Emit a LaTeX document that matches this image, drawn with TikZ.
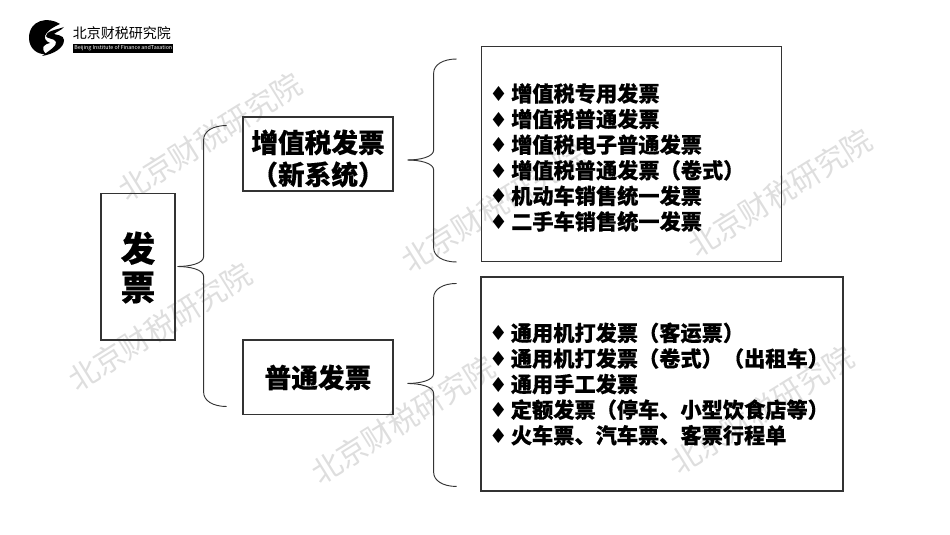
\documentclass[tikz,border=0pt]{standalone}
\usepackage{fontspec}
\setmainfont{Noto Sans CJK SC}[BoldFeatures={FakeBold=0.4}]
\newfontfamily\symfont{DejaVu Sans}
\usetikzlibrary{calc}
\tikzstyle{block} = [rectangle, draw=black!80, line width=1pt, text centered, inner sep=0, font=\bfseries]
\tikzstyle{listblock} = [block, align=left, inner xsep=6pt, font=\fontsize{15.9}{19.2}\selectfont\bfseries]
\tikzstyle{watermark} = [rotate=32, text=black!13, font=\fontsize{22.5}{24}\selectfont]
\tikzstyle{curly} = [draw=black!80, line width=0.7pt]
\newcommand{\itm}{{\symfont\fontsize{15.5}{15.5}\selectfont ♦}\hspace{2.5pt}}
\newcommand{\curlybrace}[3]{%
\path [curly] (#1) ++(49,-#2) .. controls +(-14,0) and +(0,-8) .. ++(-23,14) -- ++(0,#2-24) .. controls +(0,7) and +(12,0) .. (#1);
\path [curly] (#1) .. controls +(12,0) and +(0,-7) .. ++(26,10) -- ++(0,#3-24) .. controls +(0,8) and +(-14,0) .. ++(23,14);
}

\begin{document}
\begin{tikzpicture}[x=0.75pt,y=-0.75pt]
\useasboundingbox (0,0) rectangle (950,535);

% watermark
\node [watermark] (mark1) at (210,137) {北京财税研究院};
\node [watermark] (mark2) at (160,327) {北京财税研究院};
\node [watermark] (mark3) at (493,208) {北京财税研究院};
\node [watermark] (mark4) at (780,193) {北京财税研究院};
\node [watermark] (mark5) at (403,420) {北京财税研究院};
\node [watermark] (mark6) at (762,410) {北京财税研究院};

% logo
\fill [black] (60,24) .. controls (48,16) and (29,20) .. (29,38) .. controls (29,48) and (37,55) .. (46,54) .. controls (40,48) and (44,44) .. (50,43) .. controls (42,40) and (42,32) .. (60,24) -- cycle;
\fill [black] (64,27) .. controls (56,30) and (46,31) .. (46,36) .. controls (46,39) and (55,38) .. (56,42) .. controls (57,46) and (50,50) .. (42,56) .. controls (54,54) and (64,48) .. (64,40) .. controls (64,35) and (56,35) .. (54,34) .. controls (56,32) and (62,30) .. (64,27) -- cycle;
\node [anchor=west, inner sep=0, font=\fontsize{10.5}{12}\selectfont] (logotext) at (72.5,33.5) {北京财税研究院};
\node [anchor=west, fill=black, text=white, inner sep=0, minimum width=75pt, minimum height=6.8pt, font=\fontsize{4}{5}\selectfont] (logobar) at (73,48.5) {Beijing Institute of Finance andTaxation};

% blocks
\node [block, minimum width=55.5pt, minimum height=110pt, align=center, font=\fontsize{26}{29}\selectfont\bfseries] (fapiao) at (138,266.5) {\rule{0pt}{24pt}发\\票};
\node [block, minimum width=112.5pt, minimum height=55.5pt, align=center, font=\fontsize{20}{24}\selectfont\bfseries] (zengzhi) at (318,154) {\rule{0pt}{24pt}增值税发票\\（新系统）};
\node [block, below of=zengzhi, node distance=167.6pt, minimum width=112.5pt, minimum height=56pt, font=\fontsize{20}{25}\selectfont\bfseries] (putong) {普通发票};

\node [listblock, right of=zengzhi, node distance=235pt, minimum height=161pt, text width=213pt] (list1) {\rule{0pt}{19pt}\itm 增值税专用发票\\\itm 增值税普通发票\\\itm 增值税电子普通发票\\\itm 增值税普通发票（卷式）\\\itm 机动车销售统一发票\\\itm 二手车销售统一发票};
\node [listblock, minimum height=160.5pt, text width=259.5pt] (list2) at (662,384) {\itm 通用机打发票（客运票）\\\itm 通用机打发票（卷式）（出租车）\\\itm 通用手工发票\\\itm 定额发票（停车、小型饮食店等）\\\itm 火车票、汽车票、客票行程单};

% braces
\coordinate (tip1) at ($(fapiao.east)+(2,0)$);
\coordinate (tip2) at ($(zengzhi.east)+(14,6)$);
\coordinate (tip3) at ($(putong.east)+(14,6)$);
\curlybrace{tip1}{141}{140}
\curlybrace{tip2}{101}{102}
\curlybrace{tip3}{100}{103}

\end{tikzpicture}
\end{document}
